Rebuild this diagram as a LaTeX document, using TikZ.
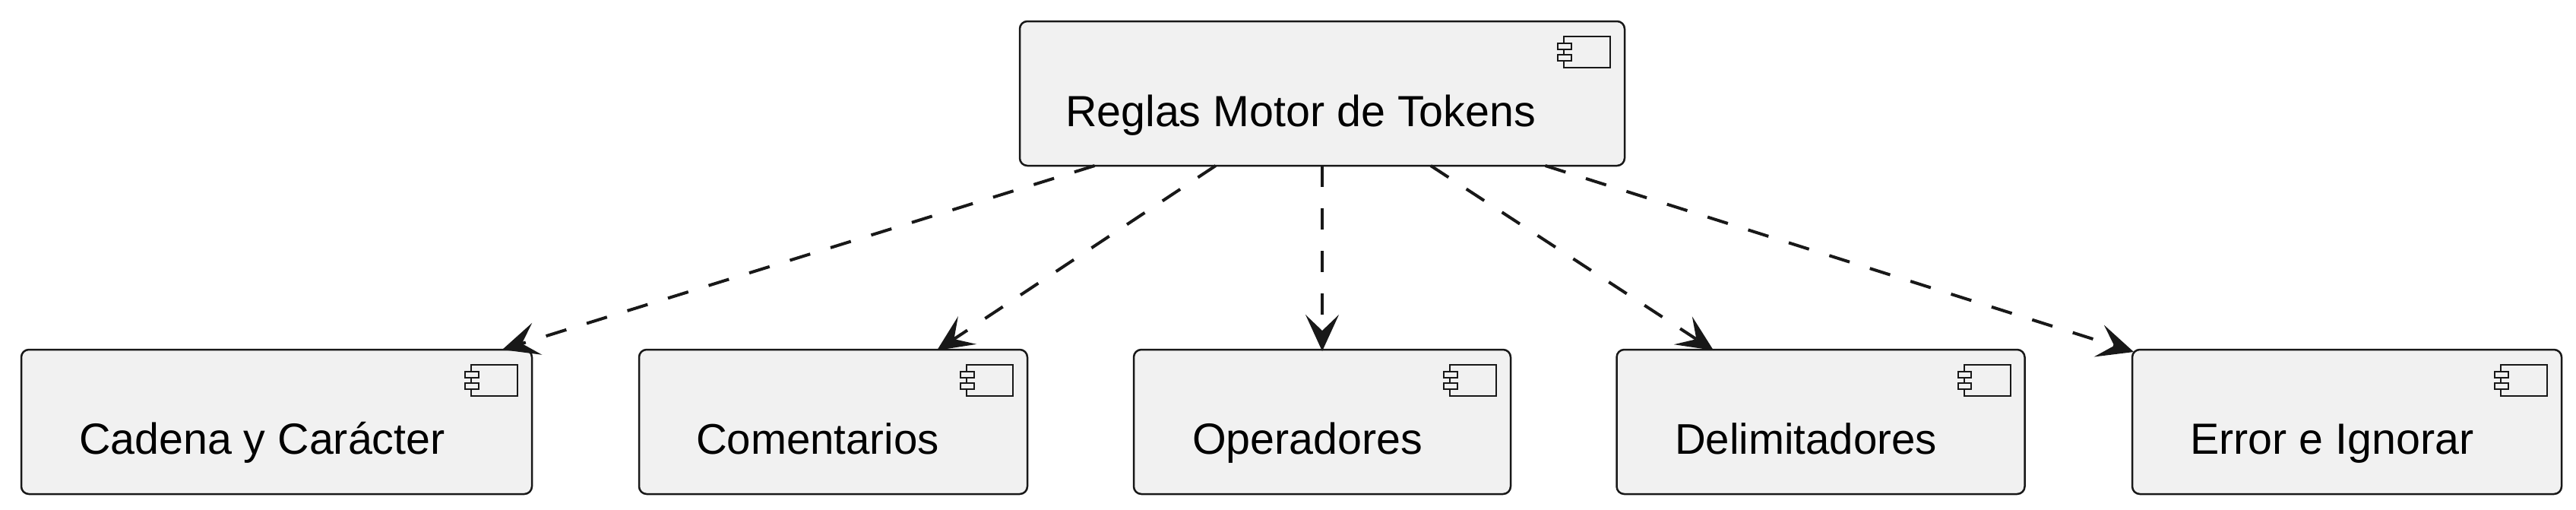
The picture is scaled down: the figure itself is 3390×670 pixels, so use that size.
\documentclass[tikz,border=0pt]{standalone}
\usepackage{fontspec}
\setmainfont{Liberation Sans}
\usetikzlibrary{arrows.meta,positioning}
\definecolor{edge}{HTML}{181818}
\definecolor{fillc}{HTML}{F1F1F1}
\tikzset{
  x=.5pt,y=-.5pt,
  comp/.style={draw=edge,fill=fillc,line width=1.25pt,rounded corners=5pt,inner sep=0pt,outer sep=0pt,anchor=north west},
  lab/.style={anchor=base west,inner sep=0pt,outer sep=0pt,text=black,font=\fontsize{28.7}{32}\selectfont},
  labn/.style={lab,font=\fontsize{28.2}{32}\selectfont},
  dep/.style={draw=edge,line width=2pt,dash pattern=on 14pt off 14pt,-{Stealth[length=24pt,width=22pt,inset=10.5pt,line width=0pt]}},
  ic/.style={draw=edge,line width=1pt},
  icb/.style={draw=edge,fill=fillc,line width=1pt}
}
\newcommand{\compicon}[1]{%
  \draw[ic] ([xshift=-40pt,yshift=-10pt]#1.north east) rectangle ([xshift=-9.5pt,yshift=-30.5pt]#1.north east);
  \draw[icb] ([xshift=-44pt,yshift=-14.5pt]#1.north east) rectangle ([xshift=-35.25pt,yshift=-18.5pt]#1.north east);
  \draw[icb] ([xshift=-44pt,yshift=-22pt]#1.north east) rectangle ([xshift=-35.25pt,yshift=-26pt]#1.north east);
}
\begin{document}
\begin{tikzpicture}
\useasboundingbox (0,0) rectangle (3390,670);
\node[comp,minimum width=398pt,minimum height=95pt] (top) at (1342,28) {};
\node[comp,minimum width=336pt,minimum height=95pt] (a) at (28,460) {};
\node[comp,minimum width=255.5pt,minimum height=95pt] (b) at (841,460) {};
\node[comp,minimum width=248pt,minimum height=95pt] (c) at (1492,460) {};
\node[comp,minimum width=268.5pt,minimum height=95pt] (d) at (2127.5,460) {};
\node[comp,minimum width=282.5pt,minimum height=95pt] (e) at (2806,460) {};
\compicon{top}\compicon{a}\compicon{b}\compicon{c}\compicon{d}\compicon{e}
\node[lab] (tt) at (1402,166) {Reglas Motor de Tokens};
\node[lab] (ta) at (104,597) {Cadena y Carácter};
\node[labn] (tb) at (916,597) {Comentarios};
\node[lab] (tc) at (1569,597) {Operadores};
\node[labn] (td) at (2204,597) {Delimitadores};
\node[lab] (te) at (2882,597) {Error e Ignorar};
\draw[dep] ([xshift=49.3pt]top.south west) -- ([xshift=316.5pt]a.north west);
\draw[dep] ([xshift=128.9pt]top.south west) -- ([xshift=196pt,yshift=-.5pt]b.north west);
\draw[dep] ([xshift=199pt]top.south west) -- ([xshift=124pt,yshift=-1pt]c.north west);
\draw[dep] ([xshift=270.4pt]top.south west) -- ([xshift=63.75pt,yshift=-.5pt]d.north west);
\draw[dep] ([xshift=345.8pt]top.south west) -- ([xshift=1pt,yshift=-1.5pt]e.north west);
\end{tikzpicture}
\end{document}
